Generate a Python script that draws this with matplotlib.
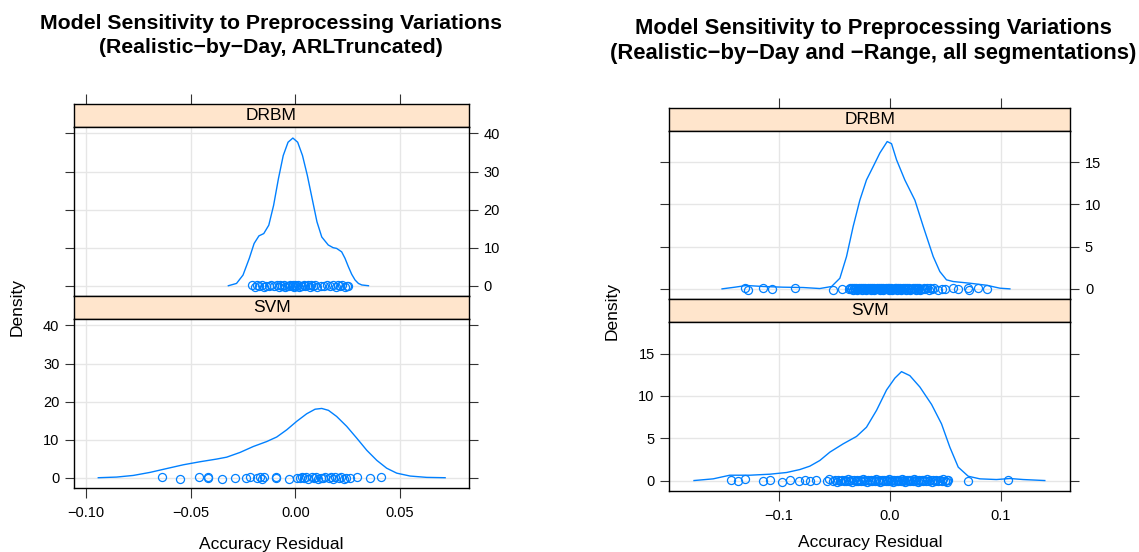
import matplotlib
matplotlib.use("Agg")
import matplotlib.pyplot as plt
import numpy as np

plt.rcParams['font.family'] = ['Liberation Sans', 'DejaVu Sans']
plt.rcParams['axes.unicode_minus'] = True

# ---------------- data ----------------
panels = ["DRBM", "SVM"]

# Left chart: Realistic-by-Day, ARLTruncated
left_drbm_curve_x = [-0.0320, -0.0281, -0.0250, -0.0220, -0.0197, -0.0174, -0.0151, -0.0127, -0.0104,
                     -0.0081, -0.0058, -0.0035, -0.0012, 0.0011, 0.0034, 0.0057, 0.0080, 0.0103,
                     0.0126, 0.0157, 0.0180, 0.0197, 0.0221, 0.0237, 0.0253, 0.0269, 0.0285, 0.0301,
                     0.0317, 0.0349]
left_drbm_curve_y = [0.0, 0.6, 2.8, 7.2, 11.1, 13.1, 13.7, 15.9, 21.1,
                     28.1, 34.2, 37.7, 38.8, 37.7, 34.2, 29.0, 22.9, 16.8,
                     12.8, 10.7, 10.0, 9.8, 8.9, 7.2, 5.0, 3.0, 1.5, 0.6,
                     0.2, 0.0]
left_drbm_points = [-0.0205, -0.0195, -0.0185, -0.0172, -0.0160, -0.0150, -0.0140, -0.0128, -0.0115,
                    -0.0100, -0.0090, -0.0080, -0.0072, -0.0062, -0.0055, -0.0048, -0.0040, -0.0032,
                    -0.0025, -0.0018, -0.0012, -0.0006, 0.0000, 0.0005, 0.0012, 0.0018, 0.0025, 0.0032,
                    0.0040, 0.0048, 0.0058, 0.0068, 0.0075, 0.0085, 0.0095, 0.0105, 0.0120, 0.0135,
                    0.0150, 0.0165, 0.0180, 0.0195, 0.0205, 0.0215, 0.0225, 0.0235, 0.0245, 0.0253]

left_svm_curve_x = [-0.0941, -0.0854, -0.0774, -0.0694, -0.0615, -0.0535, -0.0455, -0.0376, -0.0328,
                    -0.0264, -0.0201, -0.0137, -0.0089, -0.0041, 0.0006, 0.0054, 0.0094, 0.0126,
                    0.0158, 0.0197, 0.0245, 0.0293, 0.0341, 0.0389, 0.0436, 0.0484, 0.0548, 0.0627, 0.0715]
left_svm_curve_y = [0.0, 0.17, 0.6, 1.4, 2.4, 3.4, 4.2, 4.9, 5.4,
                    6.65, 8.2, 9.5, 10.7, 12.6, 14.8, 16.8, 18.0, 18.2,
                    17.7, 16.1, 13.5, 10.4, 7.2, 4.55, 2.5, 1.2, 0.44, 0.09, 0.0]
left_svm_points = [-0.0637, -0.0553, -0.0462, -0.0419, -0.0419, -0.0350, -0.0286, -0.0235, -0.0215,
                   -0.0185, -0.0170, -0.0160, -0.0150, -0.0092, -0.0092, -0.0030, 0.0010, 0.0020,
                   0.0030, 0.0040, 0.0050, 0.0060, 0.0080, 0.0090, 0.0100, 0.0110, 0.0120, 0.0130,
                   0.0140, 0.0160, 0.0170, 0.0180, 0.0190, 0.0210, 0.0220, 0.0230, 0.0240, 0.0260,
                   0.0296, 0.0356, 0.0407]

# Right chart: Realistic-by-Day and -Range, all segmentations
right_drbm_curve_x = [-0.1514, -0.1398, -0.1293, -0.1143, -0.0962, -0.0782, -0.0632, -0.0526, -0.0451,
                      -0.0391, -0.0331, -0.0271, -0.0211, -0.0150, -0.0090, -0.0024, 0.0015, 0.0060,
                      0.0135, 0.0226, 0.0301, 0.0391, 0.0451, 0.0511, 0.0571, 0.0722, 0.0872, 0.0993, 0.1083]
right_drbm_curve_y = [0.0, 0.2, 0.4, 0.28, 0.2, 0.16, 0.04, 0.28, 1.26,
                      3.83, 7.4, 10.5, 12.9, 14.5, 16.1, 17.45, 17.2, 15.3,
                      12.9, 10.5, 7.4, 3.83, 2.05, 1.07, 0.87, 0.67, 0.43, 0.08, 0.0]
right_drbm_points = [-0.1308, -0.1280, -0.1143, -0.1059, -0.0857, -0.0517, -0.0430,
                     -0.0370, -0.0362, -0.0351, -0.0344, -0.0333, -0.0325, -0.0318, -0.0309, -0.0300,
                     -0.0291, -0.0284, -0.0276, -0.0268, -0.0259, -0.0250, -0.0243, -0.0235, -0.0226,
                     -0.0219, -0.0210, -0.0202, -0.0195, -0.0187, -0.0178, -0.0170, -0.0163, -0.0155,
                     -0.0146, -0.0139, -0.0131, -0.0122, -0.0115, -0.0107, -0.0099, -0.0090, -0.0083,
                     -0.0075, -0.0066, -0.0058, -0.0050, -0.0043, -0.0035, -0.0027, -0.0019, -0.0011,
                     -0.0004, 0.0003, 0.0011, 0.0019, 0.0027, 0.0034, 0.0042, 0.0050, 0.0058, 0.0066,
                     0.0074, 0.0081, 0.0089, 0.0097, 0.0105, 0.0113, 0.0121, 0.0129, 0.0137, 0.0145,
                     0.0154, 0.0162, 0.0170, 0.0179, 0.0187, 0.0196, 0.0205, 0.0214, 0.0223, 0.0232,
                     0.0242, 0.0252, 0.0262, 0.0273, 0.0284, 0.0296, 0.0308, 0.0321, 0.0335, 0.0350,
                     0.0366, 0.0382, 0.0398,
                     0.0436, 0.0466, 0.0496, 0.0571, 0.0617, 0.0707, 0.0710, 0.0797, 0.0872]

right_svm_curve_x = [-0.1767, -0.1594, -0.1444, -0.1263, -0.1083, -0.0932, -0.0812, -0.0722, -0.0632,
                     -0.0541, -0.0421, -0.0301, -0.0211, -0.0120, -0.0030, 0.0045, 0.0105, 0.0180,
                     0.0271, 0.0376, 0.0466, 0.0541, 0.0617, 0.0707, 0.0812, 0.0962, 0.1083, 0.1203, 0.1398]
right_svm_curve_y = [0.0, 0.2, 0.63, 0.63, 0.75, 0.95, 1.3, 1.7, 2.37,
                     3.36, 4.34, 5.21, 6.3, 8.3, 10.7, 12.1, 12.87, 12.4,
                     11.05, 9.0, 6.7, 3.95, 1.58, 0.51, 0.2, 0.12, 0.24, 0.12, 0.0]
right_svm_points = [-0.1429, -0.1368, -0.1308, -0.1149, -0.1083, -0.0977, -0.0902, -0.0818, -0.0767,
                    -0.0722, -0.0662, -0.0571, -0.0547,
                    -0.0511, -0.0498, -0.0480, -0.0465, -0.0450, -0.0432, -0.0418, -0.0405, -0.0392,
                    -0.0378, -0.0365, -0.0350, -0.0338, -0.0322, -0.0310, -0.0296, -0.0285, -0.0270,
                    -0.0258, -0.0245, -0.0232, -0.0220, -0.0208, -0.0195, -0.0183, -0.0170, -0.0158,
                    -0.0146, -0.0133, -0.0121, -0.0110, -0.0098, -0.0086, -0.0074, -0.0062, -0.0050,
                    -0.0039, -0.0027, -0.0015, -0.0004, 0.0008, 0.0019, 0.0030, 0.0041, 0.0052, 0.0063,
                    0.0074, 0.0085, 0.0096, 0.0107, 0.0118, 0.0129, 0.0140, 0.0151, 0.0162, 0.0173,
                    0.0184, 0.0195, 0.0206, 0.0217, 0.0228, 0.0240, 0.0252, 0.0264, 0.0276, 0.0288,
                    0.0300, 0.0312, 0.0325, 0.0338, 0.0351, 0.0364, 0.0378, 0.0392, 0.0406, 0.0420,
                    0.0435, 0.0450, 0.0466, 0.0482, 0.0498, 0.0512, 0.0520, 0.0526,
                    0.0707, 0.1068]

left_xticks = [-0.10, -0.05, 0.00, 0.05]
left_xticklabels = ["\u22120.10", "\u22120.05", "0.00", "0.05"]
left_yticks = [0, 10, 20, 30, 40]
right_xticks = [-0.1, 0.0, 0.1]
right_xticklabels = ["\u22120.1", "0.0", "0.1"]
right_yticks = [0, 5, 10, 15]

left_title = "Model Sensitivity to Preprocessing Variations\n(Realistic\u2212by\u2212Day, ARLTruncated)"
right_title = ("Model Sensitivity to Preprocessing Variations\n"
               "(Realistic\u2212by\u2212Day and \u2212Range, all segmentations)")
xlabel = "Accuracy Residual"
ylabel = "Density"

# ---------------- style ----------------
W, H = 1139, 552
LINE = "#0080FF"
STRIP = "#FFE5CC"
GRID = "#E6E6E6"
TICKC = "#333333"
TICK_FS = 10.5
LAB_FS = 12.5
JIT = [0.15, -0.25, 0.35, -0.05, 0.25, -0.35, 0.05, -0.15, 0.3, -0.1]

fig = plt.figure(figsize=(W / 100, H / 100), dpi=100)


def rect(x0, y0, x1, y1):
    return [x0 / W, 1 - y1 / H, (x1 - x0) / W, (y1 - y0) / H]


def draw_chart(x0, x1, strip1, panel1_top, panel1_bot, strip2_bot, panel2_bot,
               xlim, ylim, xticks, xticklabels, yticks, curves, points, title, title_pos,
               title_fs, ylabel_pos, xlabel_y):
    rows = [(strip1, panel1_top, panel1_bot), (panel1_bot, strip2_bot, panel2_bot)]
    yr = ylim[1] - ylim[0]
    for i, (name, (st, sb, pb)) in enumerate(zip(panels, rows)):
        sax = fig.add_axes(rect(x0, st, x1, sb))
        sax.set_facecolor(STRIP)
        sax.set_xlim(xlim)
        sax.set_ylim(0, 1)
        sax.set_yticks([])
        sax.text(0.5, 0.5, name, transform=sax.transAxes, ha="center", va="center",
                 fontsize=LAB_FS)
        for s in sax.spines.values():
            s.set_linewidth(1.0)
            s.set_color("black")
        if i == 0:
            sax.set_xticks(xticks)
            sax.tick_params(axis="x", top=True, bottom=False, labeltop=False, labelbottom=False,
                            direction="out", length=7.2, width=0.8, color=TICKC)
        else:
            sax.set_xticks([])

        ax = fig.add_axes(rect(x0, sb, x1, pb))
        ax.set_xlim(xlim)
        ax.set_ylim(ylim)
        ax.set_xticks(xticks)
        ax.set_yticks(yticks)
        ax.grid(True, color=GRID, linewidth=1.0)
        ax.set_axisbelow(True)
        for s in ax.spines.values():
            s.set_linewidth(1.0)
            s.set_color("black")
        cx, cy = curves[i]
        ax.plot(cx, cy, color=LINE, linewidth=1.0, solid_joinstyle="round")
        px = np.asarray(points[i])
        py = np.array([JIT[k % len(JIT)] for k in range(len(px))]) * 0.02 * yr
        ax.plot(px, py, linestyle="none", marker="o", markersize=5.8, markerfacecolor="none",
                markeredgecolor=LINE, markeredgewidth=0.9)
        if i == 0:
            ax.tick_params(axis="y", left=True, right=True, labelleft=False, labelright=True,
                           direction="out", length=6.5, width=0.8, color=TICKC,
                           labelsize=TICK_FS, pad=4)
            ax.tick_params(axis="x", bottom=False, top=False, labelbottom=False)
        else:
            ax.tick_params(axis="y", left=True, right=True, labelleft=True, labelright=False,
                           direction="out", length=6.5, width=0.8, color=TICKC,
                           labelsize=TICK_FS, pad=4)
            ax.tick_params(axis="x", bottom=True, top=False, labelbottom=True,
                           direction="out", length=7.2, width=0.8, color=TICKC,
                           labelsize=TICK_FS, pad=6)
            ax.set_xticklabels(xticklabels)

    cxp = (x0 + x1) / 2
    fig.text(title_pos[0] / W, 1 - title_pos[1] / H, title, ha="center", va="center",
             fontsize=title_fs, fontweight="bold", linespacing=1.3)
    fig.text(ylabel_pos[0] / W, 1 - ylabel_pos[1] / H, ylabel, rotation=90, ha="center",
             va="center", fontsize=LAB_FS)
    fig.text(cxp / W, 1 - xlabel_y / H, xlabel, ha="center", va="center", fontsize=LAB_FS)


draw_chart(74, 469, 104, 127, 296, 319, 488,
           (-0.1057, 0.0829), (-2.7, 41.7), left_xticks, left_xticklabels, left_yticks,
           [(left_drbm_curve_x, left_drbm_curve_y), (left_svm_curve_x, left_svm_curve_y)],
           [left_drbm_points, left_svm_points], left_title, (271, 35.5), 15.3, (17, 307), 545)

draw_chart(669.3, 1070.3, 108.3, 131, 299, 322.3, 490.7,
           (-0.199, 0.1628), (-1.2, 18.7), right_xticks, right_xticklabels, right_yticks,
           [(right_drbm_curve_x, right_drbm_curve_y), (right_svm_curve_x, right_svm_curve_y)],
           [right_drbm_points, right_svm_points], right_title, (873, 41), 15.8, (612, 311), 543)

fig.savefig("out.png", dpi=100)
